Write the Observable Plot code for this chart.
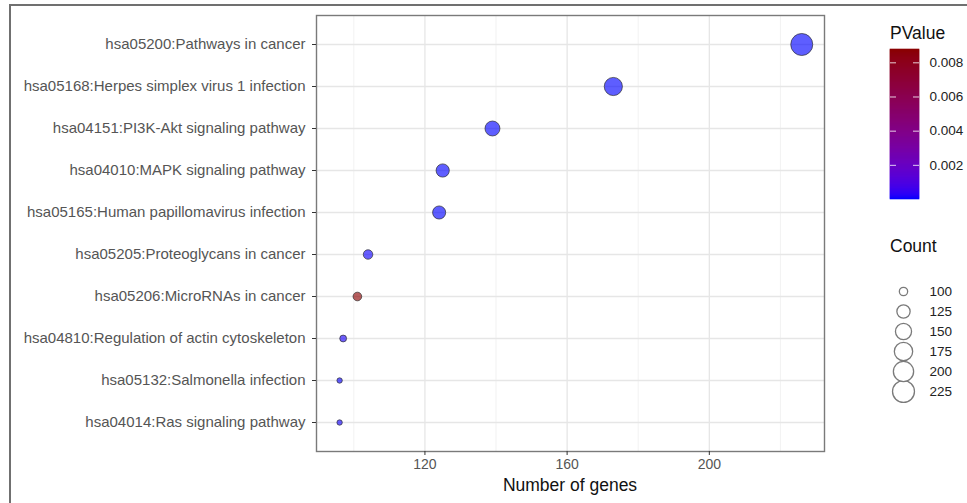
<!DOCTYPE html>
<html>
<head>
<meta charset="utf-8">
<script src="https://cdn.jsdelivr.net/npm/d3@7"></script>
<script src="https://cdn.jsdelivr.net/npm/@observablehq/plot@0.6"></script>
<style>
  body { margin: 0; background: #fff; }
  #wrap { position: relative; width: 967px; height: 503px; overflow: hidden; background: #fff;
          font-family: "Liberation Sans", Arial, Helvetica, sans-serif; }
  #frame { position: absolute; left: 9px; top: 4px; width: 1100px; height: 700px;
           border-left: 2px solid #707070; border-top: 2px solid #707070; box-sizing: border-box; }
  .abs { position: absolute; }
  .ttl { position: absolute; font-size: 17.5px; color: #111; white-space: nowrap; line-height: 1; }
  #xlab { position: absolute; left: 316px; width: 508px; top: 477px; text-align: center;
          font-size: 17.5px; color: #111; line-height: 1; }
</style>
</head>
<body>
<div id="wrap">
  <div id="frame"></div>
  <div id="main" class="abs" style="left:0;top:0"></div>
  <div id="xlab">Number of genes</div>
  <div class="ttl" style="left:890px;top:25px">PValue</div>
  <div id="clegend" class="abs" style="left:880px;top:40px"></div>
  <div class="ttl" style="left:890px;top:238px">Count</div>
  <div id="rlegend" class="abs" style="left:880px;top:270px"></div>
</div>
<script>
// ---- data ----
const terms = [
  "hsa05200:Pathways in cancer",
  "hsa05168:Herpes simplex virus 1 infection",
  "hsa04151:PI3K-Akt signaling pathway",
  "hsa04010:MAPK signaling pathway",
  "hsa05165:Human papillomavirus infection",
  "hsa05205:Proteoglycans in cancer",
  "hsa05206:MicroRNAs in cancer",
  "hsa04810:Regulation of actin cytoskeleton",
  "hsa05132:Salmonella infection",
  "hsa04014:Ras signaling pathway"
];
const geneCounts = [226, 173, 139, 125, 124, 104, 101, 97, 96, 96];
const pValues = [3.2e-9, 1.1e-6, 4.5e-7, 2.3e-6, 8.7e-7, 5.1e-5, 0.00878, 1.2e-4, 2.9e-5, 6.4e-5];
const xTicks = [120, 160, 200];
const xMinorTicks = [100, 140, 180, 220];
const pTicks = [0.002, 0.004, 0.006, 0.008];
const countTicks = [100, 125, 150, 175, 200, 225];

const data = terms.map((t, i) => ({term: t, genes: geneCounts[i], p: pValues[i]}));

const font = '"Liberation Sans", Arial, Helvetica, sans-serif';
const pMin = d3.min(pValues), pMax = d3.max(pValues);
const gMin = d3.min(geneCounts), gMax = d3.max(geneCounts);

// shared scales
const colorOpts = {type: "linear", domain: [pMin, pMax], range: ["#0000ff", "#8b0000"], interpolate: "lab"};
const rOpts = {type: "linear", domain: [gMin, gMax], range: [0, 1],
               interpolate: t => 2.7 + 8.3 * Math.sqrt(Math.max(0, t))};

// ---- main chart ----
const main = Plot.plot({
  width: 967, height: 503,
  marginLeft: 316, marginRight: 143, marginTop: 15, marginBottom: 52,
  style: {fontFamily: font, background: "transparent", overflow: "visible"},
  x: {domain: [89.5, 232.4]},
  y: {type: "point", domain: terms, padding: 0.6},
  r: rOpts,
  color: colorOpts,
  marks: [
    Plot.ruleX(xMinorTicks, {stroke: "#ececec", strokeWidth: 0.7}),
    Plot.ruleX(xTicks, {stroke: "#e6e6e6", strokeWidth: 1.3}),
    Plot.ruleY(terms, {stroke: "#e6e6e6", strokeWidth: 1.3}),
    Plot.dot(data, {x: "genes", y: "term", r: "genes", fill: "p", fillOpacity: 0.63,
                    stroke: "#2a2a2a", strokeOpacity: 0.75, strokeWidth: 0.9}),
    Plot.frame({stroke: "#7a7a7a", strokeWidth: 1.4}),
    Plot.axisX(xTicks, {tickSize: 4, tickPadding: 4, fontSize: 14, stroke: "#333", fill: "#555", label: null}),
    Plot.axisY({tickSize: 4, tickPadding: 7, fontSize: 15, stroke: "#333", fill: "#555", label: null})
  ]
});
document.getElementById("main").appendChild(main);

// ---- colour bar legend ----
const nStops = 150;
const pStops = d3.range(nStops + 1).map(i => pMin + (pMax - pMin) * i / nStops);
const slices = pStops.slice(0, -1).map((v, i) => ({lo: v, hi: pStops[i + 1]}));
const cleg = Plot.plot({
  width: 87, height: 170,
  marginLeft: 10, marginRight: 48, marginTop: 9, marginBottom: 11,
  style: {fontFamily: font, background: "transparent", overflow: "visible"},
  y: {domain: [pMin, pMax]},
  color: colorOpts,
  marks: [
    Plot.rectY(slices, {y1: "lo", y2: "hi", fill: "lo", stroke: "lo", strokeWidth: 0.6}),
    Plot.ruleY(pTicks, {stroke: "#ffffff", strokeOpacity: 0.8, insetRight: 23, strokeWidth: 1}),
    Plot.ruleY(pTicks, {stroke: "#ffffff", strokeOpacity: 0.8, insetLeft: 23, strokeWidth: 1}),
    Plot.axisY(pTicks, {anchor: "right", tickSize: 0, tickPadding: 10, fontSize: 13.5, fill: "#222", label: null})
  ]
});
document.getElementById("clegend").appendChild(cleg);

// ---- size legend ----
const rleg = Plot.plot({
  width: 87, height: 140,
  marginLeft: 11, marginRight: 52, marginTop: 19, marginBottom: 17,
  style: {fontFamily: font, background: "transparent", overflow: "visible"},
  y: {type: "point", domain: countTicks, padding: 0},
  r: rOpts,
  marks: [
    Plot.dot(countTicks, {y: d => d, r: d => d, fill: "white", stroke: "#7a7a7a", strokeWidth: 1.3}),
    Plot.axisY(countTicks, {anchor: "right", tickSize: 0, tickPadding: 14, fontSize: 13.5, fill: "#222", label: null})
  ]
});
document.getElementById("rlegend").appendChild(rleg);
</script>
</body>
</html>
